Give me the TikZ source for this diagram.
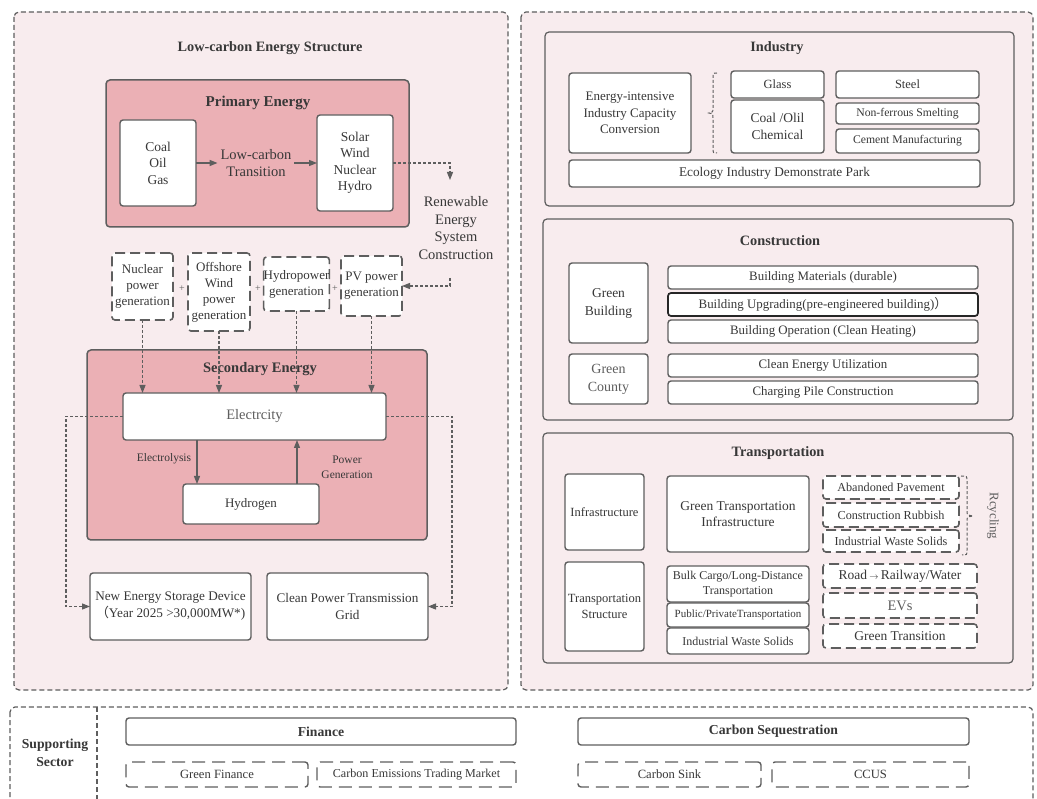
\documentclass[tikz,border=0pt]{standalone}
\usepackage{fontspec}
\setmainfont{Liberation Serif}
\newfontfamily\cjk{Noto Sans CJK SC}
\usetikzlibrary{arrows.meta,calc}
\definecolor{bgpink}{HTML}{F8ECEE}
\definecolor{deeppink}{HTML}{EBB0B5}
\definecolor{bord}{HTML}{5E5E5E}
\definecolor{txt}{HTML}{383838}
\newcommand\fs[2]{\fontsize{#1}{#2}\selectfont}
\newcommand\bx[7]{\node[#2,minimum width={#5-#3},minimum height={#6-#4}] (#1) at ({(#3+#5)/2},{(#4+#6)/2}) {#7};}
\tikzset{
  x=1pt,y=-1pt,
  every node/.style={inner sep=0pt,outer sep=0pt,align=center,text=txt},
  outerbox/.style={draw=bord,line width=1.2pt,dash pattern=on 5pt off 3pt,rounded corners=5pt},
  groupbox/.style={draw=bord,line width=1.2pt,fill=bgpink,rounded corners=4pt},
  deepbox/.style={draw=bord,line width=1.5pt,fill=deeppink,rounded corners=4pt},
  wbox/.style={draw=bord,line width=1.4pt,fill=white,rounded corners=3pt},
  dbox/.style={wbox,line width=1.6pt,dash pattern=on 10pt off 5pt},
  dboxl/.style={wbox,dash pattern=on 13pt off 7pt},
  arr/.style={draw=bord,line width=1.3pt,-{Triangle[length=8pt,width=6pt]}},
  darr/.style={draw=bord,line width=1.1pt,dash pattern=on 3pt off 2pt,-{Triangle[length=8pt,width=6pt]}},
  brace/.style={draw=bord,line width=1pt,dash pattern=on 3pt off 2pt},
  ttl/.style={font=\bfseries\fs{14.3}{17}},
}
\begin{document}
\begin{tikzpicture}
\useasboundingbox (0,0) rectangle (1037,799);
\clip (0,0) rectangle (1037,799);
\fill[white] (0,0) rectangle (1037,799);
% outer regions
\draw[outerbox,fill=bgpink] (14,12) rectangle (508,690);
\draw[outerbox,fill=bgpink] (521,12) rectangle (1033,690);
\draw[outerbox] (10,707) rectangle (1033,830);
\coordinate (divTop) at (97,707);
\coordinate (divBot) at (97,799);
\draw[draw=bord,line width=1.2pt,dash pattern=on 5pt off 3pt] (divTop) -- (divBot);

% ---------------- left part
\node[ttl] (lces) at (270,48) {Low-carbon Energy Structure};
\bx{prim}{deepbox}{106}{80}{409}{227}{}
\node[font=\bfseries\fs{15}{17}] (primT) at (258,103) {Primary Energy};
\bx{coal}{wbox,font=\fs{13.5}{16.5}}{120}{120}{196}{206}{Coal\\Oil\\Gas}
\node[font=\fs{14.5}{17}] (trans) at (256,163) {Low-carbon\\Transition};
\bx{solar}{wbox,font=\fs{13.5}{16.5}}{317}{115}{393}{211}{Solar\\Wind\\Nuclear\\Hydro}
\draw[arr] (coal.east) -- ([xshift=-3pt]trans.west);
\draw[arr] ([xshift=3pt]trans.east) -- (solar.west);
\node[font=\fs{14.5}{17.5}] (ren) at (456,228) {Renewable\\Energy\\System\\Construction};
\coordinate (renTop) at (450,180);
\coordinate (renBot) at (450,278);
\draw[darr] (solar.east) -| (renTop);

\bx{nuc}{dbox,font=\fs{13}{16}}{112}{253}{173}{320}{Nuclear\\power\\generation}
\bx{off}{dbox,font=\fs{13}{16}}{188}{253}{250}{331}{Offshore\\Wind\\power\\generation}
\bx{hyd}{dbox,font=\fs{13}{16}}{266}{257}{327}{311}{Hydropower\\generation}
\bx{pv}{dbox,font=\fs{13}{16}}{341}{256}{402}{316}{PV power\\generation}
\node[font=\fs{10}{12},text=bord] (p1) at (182,289) {+};
\node[font=\fs{10}{12},text=bord] (p2) at (258,289) {+};
\node[font=\fs{10}{12},text=bord] (p3) at (335,289) {+};
\draw[darr] (renBot) |- (pv.east);

\bx{sec}{deepbox}{87}{350}{427}{540}{}
\node[font=\bfseries\fs{14.5}{17}] (secT) at (260,369) {Secondary Energy};
\bx{elec}{wbox,font=\fs{14.5}{16},text=bord}{123}{393}{386}{440}{Electrcity}
\bx{hydrogen}{wbox,font=\fs{13}{16}}{183}{484}{319}{524}{Hydrogen}
\foreach \g in {nuc,off,hyd,pv}{\draw[darr] (\g.south) -- (\g.south |- elec.north);}
\coordinate (eA) at ($(hydrogen.north west)+(14,0)$);
\coordinate (pA) at ($(hydrogen.north east)+(-22,0)$);
\draw[arr] (eA |- elec.south) -- (eA);
\draw[arr] (pA) -- (pA |- elec.south);
\node[font=\fs{11.5}{14}] (elys) at (164,459) {Electrolysis};
\node[font=\fs{11.5}{15}] (pgen) at (347,467) {Power\\Generation};

\bx{stor}{wbox,font=\fs{13.2}{17}}{90}{573}{251}{640}{New Energy Storage Device\\{\cjk （}Year 2025 >30,000MW*)}
\bx{grid}{wbox,font=\fs{13.2}{17}}{267}{573}{428}{640}{Clean Power Transmission\\Grid}
\draw[darr] (elec.west) -- ++(-57,0) |- (stor.west);
\draw[darr] (elec.east) -- ++(66,0) |- (grid.east);

% ---------------- industry
\bx{ind}{groupbox}{545}{32}{1014}{206}{}
\node[ttl] (indT) at (777,48) {Industry};
\bx{eic}{wbox,font=\fs{13}{16.5}}{569}{73}{691}{153}{Energy-intensive\\Industry Capacity\\Conversion}
\bx{glass}{wbox,font=\fs{12.5}{15}}{731}{71}{824}{98}{Glass}
\bx{coalc}{wbox,font=\fs{13.5}{16.5}}{731}{100}{824}{153}{Coal /Olil\\Chemical}
\bx{steel}{wbox,font=\fs{12.5}{15}}{836}{71}{979}{98}{Steel}
\bx{nonf}{wbox,font=\fs{11.7}{14}}{836}{103}{979}{124}{Non-ferrous Smelting}
\bx{cem}{wbox,font=\fs{11.7}{14}}{836}{129}{979}{153}{Cement Manufacturing}
\bx{eco}{wbox,font=\fs{13.3}{15}}{569}{160}{980}{187}{Ecology Industry Demonstrate Park}
\coordinate (bA) at (717,73);
\coordinate (bB) at (709,113);
\coordinate (bC) at (717,153);
\draw[brace] (bA) .. controls (713,73) .. (713,78) -- (713,108) .. controls (713,112) .. (bB) .. controls (713,114) .. (713,118) -- (713,148) .. controls (713,153) .. (bC);

% ---------------- construction
\bx{con}{groupbox}{543}{219}{1013}{420}{}
\node[ttl] (conT) at (780,241) {Construction};
\bx{gb}{wbox,font=\fs{13.5}{18}}{569}{263}{648}{343}{Green\\Building}
\bx{bm}{wbox,font=\fs{12.9}{14}}{668}{266}{978}{289}{Building Materials (durable)}
\bx{bu}{wbox,draw=black!85,line width=1.7pt,font=\fs{12.9}{14}}{668}{293}{978}{316}{Building Upgrading(pre-engineered building){\cjk ）}}
\bx{bo}{wbox,font=\fs{12.9}{14}}{668}{320}{978}{343}{Building Operation (Clean Heating)}
\bx{gc}{wbox,font=\fs{14}{18},text=bord}{569}{354}{648}{404}{Green\\County}
\bx{ce}{wbox,font=\fs{12.9}{14}}{668}{354}{978}{377}{Clean Energy Utilization}
\bx{cp}{wbox,font=\fs{12.9}{14}}{668}{381}{978}{404}{Charging Pile Construction}

% ---------------- transportation
\bx{tra}{groupbox}{543}{433}{1013}{663}{}
\node[ttl] (traT) at (778,453) {Transportation};
\bx{inf}{wbox,font=\fs{12.5}{15}}{565}{474}{644}{550}{Infrastructure}
\bx{gti}{wbox,font=\fs{13.5}{16.5}}{667}{476}{809}{552}{Green Transportation\\Infrastructure}
\bx{ap}{dbox,font=\fs{12.2}{14}}{823}{476}{959}{499}{Abandoned Pavement}
\bx{cr}{dbox,font=\fs{12.2}{14}}{823}{503}{959}{527}{Construction Rubbish}
\bx{iw}{dbox,font=\fs{12.2}{14}}{823}{530}{959}{552}{Industrial Waste Solids}
\coordinate (rA) at (961,476);
\coordinate (rB) at (973,516);
\coordinate (rC) at (962,555);
\draw[brace] (rA) .. controls (967,476) .. (967,481) -- (967,511) .. controls (967,515) .. (rB) .. controls (967,517) .. (967,521) -- (967,550) .. controls (967,555) .. (rC);
\node[font=\fs{13}{14},text=bord,rotate=-90] (rec) at (993,516) {Rcycling};
\bx{ts}{wbox,font=\fs{12.5}{16}}{565}{562}{644}{651}{Transportation\\Structure}
\bx{bulk}{wbox,font=\fs{12}{14.5}}{667}{566}{809}{602}{Bulk Cargo/Long-Distance\\Transportation}
\bx{pub}{wbox,font=\fs{11}{13}}{667}{603}{809}{627}{Public/PrivateTransportation}
\bx{iw2}{wbox,font=\fs{12}{14}}{667}{628}{809}{654}{Industrial Waste Solids}
\bx{road}{dbox,font=\fs{13.5}{15}}{823}{564}{977}{588}{Road\,$\scriptstyle\rightarrow$\,Railway/Water}
\bx{ev}{dbox,font=\fs{14.5}{16},text=bord}{823}{593}{977}{618}{EVs}
\bx{gtr}{dbox,font=\fs{13.5}{15}}{823}{624}{977}{648}{Green Transition}

% ---------------- supporting sector
\node[font=\bfseries\fs{13.7}{18}] (sup) at (55,753) {Supporting\\Sector};
\bx{fin}{wbox,font=\bfseries\fs{13.7}{15}}{126}{718}{516}{745}{Finance}
\bx{cs}{wbox,font=\bfseries\fs{13.7}{15}}{578}{718}{969}{745}{Carbon Sequestration}
\bx{gf}{dboxl,font=\fs{12.6}{14}}{126}{762}{308}{787}{Green Finance}
\bx{cetm}{dboxl,font=\fs{12.1}{14}}{317}{762}{516}{787}{Carbon Emissions Trading Market}
\bx{sink}{dboxl,font=\fs{12.6}{14}}{578}{762}{761}{787}{Carbon Sink}
\bx{ccus}{dboxl,font=\fs{12.6}{14}}{772}{762}{969}{787}{CCUS}
\end{tikzpicture}
\end{document}
